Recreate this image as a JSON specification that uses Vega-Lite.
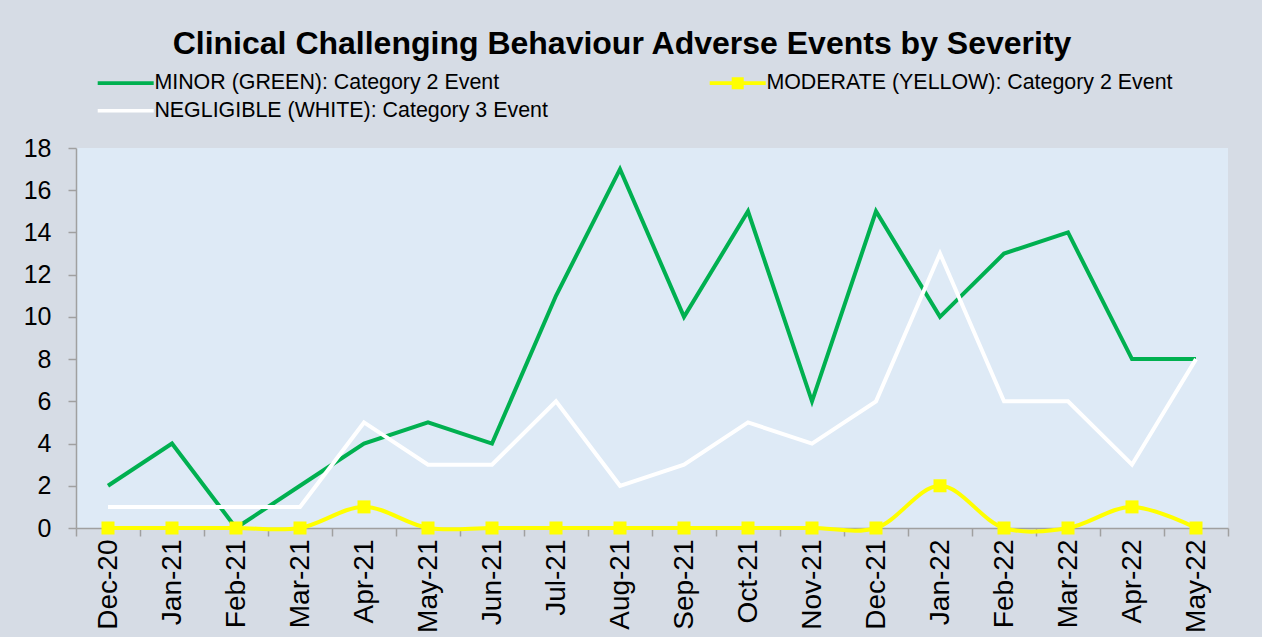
{
  "$schema": "https://vega.github.io/schema/vega-lite/v6.json",
  "width": 1152,
  "height": 380,
  "autosize": {"type": "none"},
  "padding": {"left": 76, "top": 148, "right": 34, "bottom": 109},
  "background": "#D6DCE5",
  "title": {
    "text": "Clinical Challenging Behaviour Adverse Events by Severity",
    "anchor": "middle",
    "frame": "group",
    "font": "Liberation Sans",
    "fontSize": 32,
    "fontWeight": "bold",
    "color": "#000000",
    "dx": -30,
    "offset": 11
  },
  "config": {
    "view": {"fill": "#DEEAF6", "stroke": null},
    "axis": {
      "domainColor": "#A0A0A0",
      "domainWidth": 1.5,
      "tickColor": "#A0A0A0",
      "tickWidth": 1.5,
      "tickSize": 8,
      "labelFont": "Liberation Sans",
      "labelColor": "#000000",
      "grid": false,
      "title": null
    }
  },
  "data": {
    "values": [
      {"month": "Dec-20", "series": "MINOR (GREEN): Category 2 Event", "value": 2},
      {"month": "Jan-21", "series": "MINOR (GREEN): Category 2 Event", "value": 4},
      {"month": "Feb-21", "series": "MINOR (GREEN): Category 2 Event", "value": 0},
      {"month": "Mar-21", "series": "MINOR (GREEN): Category 2 Event", "value": 2},
      {"month": "Apr-21", "series": "MINOR (GREEN): Category 2 Event", "value": 4},
      {"month": "May-21", "series": "MINOR (GREEN): Category 2 Event", "value": 5},
      {"month": "Jun-21", "series": "MINOR (GREEN): Category 2 Event", "value": 4},
      {"month": "Jul-21", "series": "MINOR (GREEN): Category 2 Event", "value": 11},
      {"month": "Aug-21", "series": "MINOR (GREEN): Category 2 Event", "value": 17},
      {"month": "Sep-21", "series": "MINOR (GREEN): Category 2 Event", "value": 10},
      {"month": "Oct-21", "series": "MINOR (GREEN): Category 2 Event", "value": 15},
      {"month": "Nov-21", "series": "MINOR (GREEN): Category 2 Event", "value": 6},
      {"month": "Dec-21", "series": "MINOR (GREEN): Category 2 Event", "value": 15},
      {"month": "Jan-22", "series": "MINOR (GREEN): Category 2 Event", "value": 10},
      {"month": "Feb-22", "series": "MINOR (GREEN): Category 2 Event", "value": 13},
      {"month": "Mar-22", "series": "MINOR (GREEN): Category 2 Event", "value": 14},
      {"month": "Apr-22", "series": "MINOR (GREEN): Category 2 Event", "value": 8},
      {"month": "May-22", "series": "MINOR (GREEN): Category 2 Event", "value": 8},
      {"month": "Dec-20", "series": "MODERATE (YELLOW): Category 2 Event", "value": 0},
      {"month": "Jan-21", "series": "MODERATE (YELLOW): Category 2 Event", "value": 0},
      {"month": "Feb-21", "series": "MODERATE (YELLOW): Category 2 Event", "value": 0},
      {"month": "Mar-21", "series": "MODERATE (YELLOW): Category 2 Event", "value": 0},
      {"month": "Apr-21", "series": "MODERATE (YELLOW): Category 2 Event", "value": 1},
      {"month": "May-21", "series": "MODERATE (YELLOW): Category 2 Event", "value": 0},
      {"month": "Jun-21", "series": "MODERATE (YELLOW): Category 2 Event", "value": 0},
      {"month": "Jul-21", "series": "MODERATE (YELLOW): Category 2 Event", "value": 0},
      {"month": "Aug-21", "series": "MODERATE (YELLOW): Category 2 Event", "value": 0},
      {"month": "Sep-21", "series": "MODERATE (YELLOW): Category 2 Event", "value": 0},
      {"month": "Oct-21", "series": "MODERATE (YELLOW): Category 2 Event", "value": 0},
      {"month": "Nov-21", "series": "MODERATE (YELLOW): Category 2 Event", "value": 0},
      {"month": "Dec-21", "series": "MODERATE (YELLOW): Category 2 Event", "value": 0},
      {"month": "Jan-22", "series": "MODERATE (YELLOW): Category 2 Event", "value": 2},
      {"month": "Feb-22", "series": "MODERATE (YELLOW): Category 2 Event", "value": 0},
      {"month": "Mar-22", "series": "MODERATE (YELLOW): Category 2 Event", "value": 0},
      {"month": "Apr-22", "series": "MODERATE (YELLOW): Category 2 Event", "value": 1},
      {"month": "May-22", "series": "MODERATE (YELLOW): Category 2 Event", "value": 0},
      {"month": "Dec-20", "series": "NEGLIGIBLE (WHITE): Category 3 Event", "value": 1},
      {"month": "Jan-21", "series": "NEGLIGIBLE (WHITE): Category 3 Event", "value": 1},
      {"month": "Feb-21", "series": "NEGLIGIBLE (WHITE): Category 3 Event", "value": 1},
      {"month": "Mar-21", "series": "NEGLIGIBLE (WHITE): Category 3 Event", "value": 1},
      {"month": "Apr-21", "series": "NEGLIGIBLE (WHITE): Category 3 Event", "value": 5},
      {"month": "May-21", "series": "NEGLIGIBLE (WHITE): Category 3 Event", "value": 3},
      {"month": "Jun-21", "series": "NEGLIGIBLE (WHITE): Category 3 Event", "value": 3},
      {"month": "Jul-21", "series": "NEGLIGIBLE (WHITE): Category 3 Event", "value": 6},
      {"month": "Aug-21", "series": "NEGLIGIBLE (WHITE): Category 3 Event", "value": 2},
      {"month": "Sep-21", "series": "NEGLIGIBLE (WHITE): Category 3 Event", "value": 3},
      {"month": "Oct-21", "series": "NEGLIGIBLE (WHITE): Category 3 Event", "value": 5},
      {"month": "Nov-21", "series": "NEGLIGIBLE (WHITE): Category 3 Event", "value": 4},
      {"month": "Dec-21", "series": "NEGLIGIBLE (WHITE): Category 3 Event", "value": 6},
      {"month": "Jan-22", "series": "NEGLIGIBLE (WHITE): Category 3 Event", "value": 13},
      {"month": "Feb-22", "series": "NEGLIGIBLE (WHITE): Category 3 Event", "value": 6},
      {"month": "Mar-22", "series": "NEGLIGIBLE (WHITE): Category 3 Event", "value": 6},
      {"month": "Apr-22", "series": "NEGLIGIBLE (WHITE): Category 3 Event", "value": 3},
      {"month": "May-22", "series": "NEGLIGIBLE (WHITE): Category 3 Event", "value": 8}
    ]
  },
  "encoding": {
    "x": {
      "field": "month",
      "type": "nominal",
      "sort": null,
      "scale": {"paddingInner": 0, "paddingOuter": 0},
      "axis": {
        "labelAngle": -90,
        "labelFontSize": 28,
        "labelPadding": 3,
        "tickBand": "extent"
      }
    },
    "y": {
      "field": "value",
      "type": "quantitative",
      "scale": {"domain": [0, 18], "nice": false, "zero": true},
      "axis": {
        "values": [0, 2, 4, 6, 8, 10, 12, 14, 16, 18],
        "labelFontSize": 25,
        "labelPadding": 17
      }
    },
    "color": {
      "field": "series",
      "type": "nominal",
      "scale": {
        "domain": ["MINOR (GREEN): Category 2 Event", "MODERATE (YELLOW): Category 2 Event", "NEGLIGIBLE (WHITE): Category 3 Event"],
        "range": ["#00B050", "#FFFF00", "#FFFFFF"]
      },
      "legend": {
        "orient": "none",
        "legendX": 21,
        "legendY": -76,
        "direction": "horizontal",
        "columns": 2,
        "columnPadding": 161,
        "rowPadding": 5,
        "padding": 0,
        "title": null,
        "labelFont": "Liberation Sans",
        "labelFontSize": 21.4,
        "labelColor": "#000000",
        "labelLimit": 600,
        "symbolSize": 400,
        "labelOffset": 36,
        "encode": {
          "symbols": {
            "update": {
              "shape": {"signal": "datum.value === 'MODERATE (YELLOW): Category 2 Event' ? 'M-1,-0.18H4.6V0.18H-1ZM1.2,-0.6H2.4V0.6H1.2Z' : 'M-1,-0.18H4.6V0.18H-1Z'"},
              "fill": {"scale": "color", "field": "value"},
              "stroke": {"value": "transparent"},
              "strokeWidth": {"value": 0},
              "opacity": {"value": 1}
            }
          }
        }
      }
    }
  },
  "layer": [
    {
      "transform": [{"filter": "datum.series !== 'MODERATE (YELLOW): Category 2 Event'"}],
      "mark": {"type": "line", "strokeWidth": 4, "strokeJoin": "miter"}
    },
    {
      "transform": [{"filter": "datum.series === 'MODERATE (YELLOW): Category 2 Event'"}],
      "mark": {"type": "line", "strokeWidth": 4, "interpolate": "catmull-rom"}
    },
    {
      "transform": [{"filter": "datum.series === 'MODERATE (YELLOW): Category 2 Event'"}],
      "mark": {"type": "point", "shape": "square", "filled": true, "size": 169, "opacity": 1}
    }
  ]
}
